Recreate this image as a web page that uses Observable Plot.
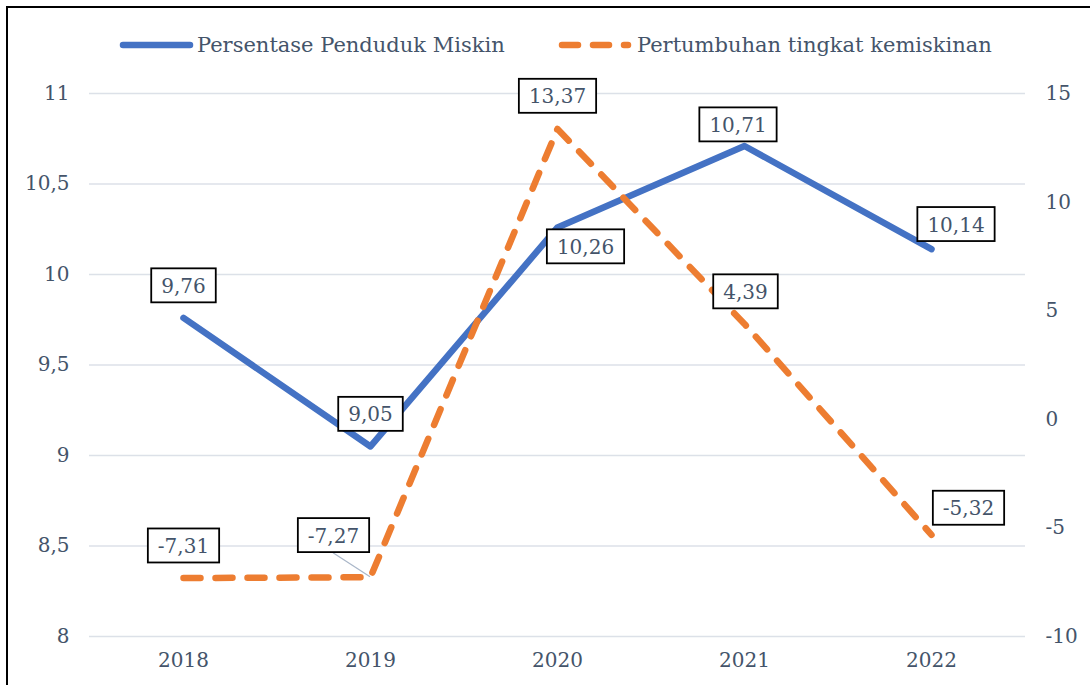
<!DOCTYPE html>
<html><head><meta charset="utf-8">
<script src="https://cdn.jsdelivr.net/npm/d3@7"></script>
<script src="https://cdn.jsdelivr.net/npm/@observablehq/plot@0.6"></script>
<style>
html,body{margin:0;padding:0;overflow:hidden;background:#fff;width:1090px;height:685px}
#frame{position:absolute;left:6px;top:6px;width:1200px;height:800px;border:2px solid #000;box-sizing:border-box;pointer-events:none}
#wrap{position:absolute;left:0;top:0;width:1090px}
#legend{position:relative;height:70px;width:1090px}
#legend svg{display:block}
#chart svg{display:block}
</style></head><body>
<div id="wrap"><div id="legend"></div><div id="chart"></div></div>
<div id="frame"></div>
<script>
// ---- data ----
const years = ["2018", "2019", "2020", "2021", "2022"];
const persentase = [9.76, 9.05, 10.26, 10.71, 10.14];
const pertumbuhan = [-7.31, -7.27, 13.37, 4.39, -5.32];
const leftTicks = [8, 8.5, 9, 9.5, 10, 10.5, 11];
const rightTicks = [-10, -5, 0, 5, 10, 15];
const seriesNames = ["Persentase Penduduk Miskin", "Pertumbuhan tingkat kemiskinan"];

// ---- layout / style config ----
const BLUE = "#4472C4", ORANGE = "#ED7D31", TXT = "#44546A", GRID = "#DCE1E8";
const FONT = "DejaVu Serif";
const blueOffsets = [[0, -31.5], [0, -31.5], [28, 20], [-6.5, -20.5], [24.5, -24]];
const orangeOffsets = [[0, -31.5], [-37, -41], [0, -32], [1, -31.5], [37, -26]];

const L0 = leftTicks[0], L1 = leftTicks[leftTicks.length - 1];
const R0 = rightTicks[0], R1 = rightTicks[rightTicks.length - 1];
const toLeft = v => L0 + (v - R0) * (L1 - L0) / (R1 - R0);
const fromLeft = d => Math.round((d - L0) * (R1 - R0) / (L1 - L0) + R0);
const fmt = v => String(v).replace(".", ",");
const fmt2 = v => v.toFixed(2).replace(".", ",");

const blueData = years.map((y, i) => ({year: y, v: persentase[i], label: fmt2(persentase[i])}));
const orangeData = years.map((y, i) => ({year: y, v: toLeft(pertumbuhan[i]), label: fmt2(pertumbuhan[i])}));

function labelMarks(data, offsets) {
  return data.map((d, i) => Plot.text([d], {
    x: "year", y: "v", text: "label", dx: offsets[i][0], dy: offsets[i][1],
    fill: TXT, fontSize: 20, className: "lbl"
  }));
}

const chart = Plot.plot({
  width: 1090,
  height: 615,
  marginTop: 23,
  marginBottom: 49,
  marginLeft: 89,
  marginRight: 65,
  style: {fontFamily: FONT, fontSize: "20px", color: TXT, background: "transparent"},
  x: {type: "point", domain: years, padding: 0.5, axis: null},
  y: {domain: [L0, L1], axis: null},
  marks: [
    Plot.ruleY(leftTicks, {stroke: GRID, strokeWidth: 1.5}),
    Plot.axisX({tickSize: 0, tickPadding: 16, fill: TXT, fontSize: 20, label: null}),
    Plot.axisY({ticks: leftTicks, anchor: "left", tickSize: 0, tickPadding: 20, tickFormat: fmt, fill: TXT, fontSize: 20, label: null}),
    Plot.axisY({ticks: rightTicks.map(toLeft), anchor: "right", tickSize: 0, tickPadding: 20, tickFormat: d => fmt(fromLeft(d)), fill: TXT, fontSize: 20, label: null}),
    Plot.line(blueData, {x: "year", y: "v", stroke: BLUE, strokeWidth: 6.5, strokeLinecap: "round", strokeLinejoin: "round"}),
    Plot.line(orangeData, {x: "year", y: "v", stroke: ORANGE, strokeWidth: 6.5, strokeDasharray: "17,15", strokeLinecap: "round", strokeLinejoin: "round"}),
    ...labelMarks(blueData, blueOffsets),
    ...labelMarks(orangeData, orangeOffsets)
  ]
});
document.getElementById("chart").append(chart);

// leader line for the shifted 2019 label of the second series
const xs = chart.scale("x"), ys = chart.scale("y");
const px = xs.apply(years[1]), py = ys.apply(orangeData[1].v);
const firstLbl = chart.querySelector("g.lbl");
const leader = document.createElementNS("http://www.w3.org/2000/svg", "line");
leader.setAttribute("x1", px); leader.setAttribute("y1", py);
leader.setAttribute("x2", px + orangeOffsets[1][0]); leader.setAttribute("y2", py + orangeOffsets[1][1] + 17);
leader.setAttribute("stroke", "#A9B6C8"); leader.setAttribute("stroke-width", 1.2);
firstLbl.parentNode.insertBefore(leader, firstLbl);

// boxes behind labels
chart.querySelectorAll("g.lbl text").forEach(t => {
  const b = t.getBBox();
  const r = document.createElementNS("http://www.w3.org/2000/svg", "rect");
  const w = b.width + 20, h = 34, cy = b.y + b.height / 2 - 0.5;
  r.setAttribute("x", b.x + b.width / 2 - w / 2);
  r.setAttribute("y", cy - h / 2);
  r.setAttribute("width", w);
  r.setAttribute("height", h);
  r.setAttribute("fill", "#fff");
  r.setAttribute("stroke", "#000");
  r.setAttribute("stroke-width", 1.8);
  if (t.getAttribute("transform")) r.setAttribute("transform", t.getAttribute("transform"));
  t.parentNode.insertBefore(r, t);
});

// legend
const lg = d3.select("#legend").append("svg").attr("width", 1090).attr("height", 70);
lg.append("line").attr("x1", 123).attr("x2", 190).attr("y1", 45).attr("y2", 45)
  .attr("stroke", BLUE).attr("stroke-width", 6.5).attr("stroke-linecap", "round");
lg.append("text").attr("x", 197).attr("y", 45).attr("dy", "0.35em").attr("fill", TXT)
  .attr("font-family", FONT).attr("font-size", 21).text(seriesNames[0]);
lg.append("line").attr("x1", 562).attr("x2", 628).attr("y1", 45).attr("y2", 45)
  .attr("stroke", ORANGE).attr("stroke-width", 6.5).attr("stroke-linecap", "round").attr("stroke-dasharray", "16,15");
lg.append("text").attr("x", 637).attr("y", 45).attr("dy", "0.35em").attr("fill", TXT)
  .attr("font-family", FONT).attr("font-size", 21).text(seriesNames[1]);
</script>
</body></html>
